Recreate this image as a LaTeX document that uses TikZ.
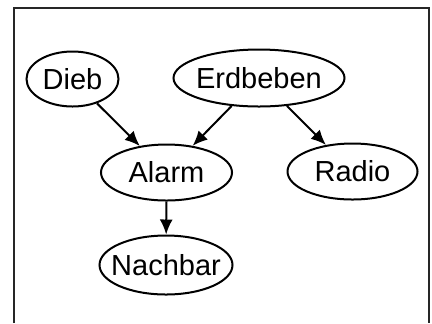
\documentclass[tikz,border=0pt]{standalone}
\usepackage{fontspec}
\setmainfont{Liberation Sans}
\usetikzlibrary{shapes.geometric}
\usetikzlibrary{arrows.meta}

\begin{document}
\begin{tikzpicture}[x=0.5pt, y=-0.5pt,
    var/.style={draw, ellipse, line width=1pt, inner xsep=-6pt, inner ysep=0pt, font=\fontsize{14.5}{16}\selectfont},
    edge/.style={draw, line width=1pt, -{Latex[length=7.5pt, width=6.5pt]}}]

    \useasboundingbox (0,0) rectangle (432,323);

    % frame
    \path[draw, line width=1pt, color=black!85] (14,323) -- (14,8) -- (429,8) -- (429,323);

    % draw the nodes
    \node[var, minimum width=46pt, minimum height=27.5pt] (dieb) at (72.5,79) {Dieb};
    \node[var, minimum width=85.5pt, minimum height=28.5pt] (erdbeben) at (259,78) {Erdbeben};
    \node[var, minimum width=65.5pt, minimum height=28pt] (alarm) at (166.5,172.5) {Alarm};
    \node[var, minimum width=65pt, minimum height=28pt] (radio) at (352.5,171.5) {Radio};
    \node[var, minimum width=66.5pt, minimum height=29.5pt] (nachbar) at (166,265) {Nachbar};

    % draw the edges
    \path[edge] (dieb) -- (alarm);
    \path[edge] (erdbeben) -- (alarm);
    \path[edge] (erdbeben) -- (radio);
    \path[edge] (alarm) -- (nachbar);

\end{tikzpicture}
\end{document}
